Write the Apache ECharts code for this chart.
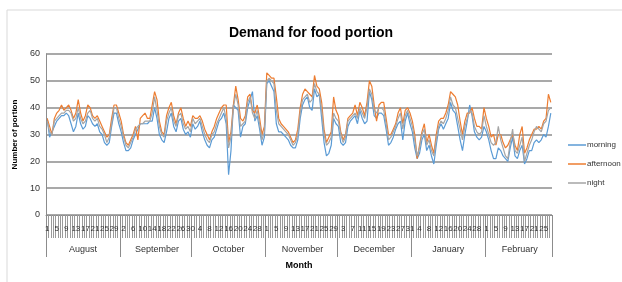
<!DOCTYPE html>
<html lang="en">
<head>
    <meta charset="UTF-8">
    <title>Demand for food portion</title>
    <script src="https://cdn.jsdelivr.net/npm/echarts@6/dist/echarts.min.js"></script>
    <style>
        html, body { margin: 0; padding: 0; background: #fff; }
    </style>
</head>
<body>
<div id="main" style="width: 622px;height:282px;"></div>
<script type="text/javascript">
    // months shown under the axis, and how many days each has in the data
    var months = ['August', 'September', 'October', 'November', 'December', 'January', 'February'];
    var monthDays = [31, 30, 31, 30, 31, 31, 28];

    // night (gray)
    var nightAug = [35, 31, 30, 35, 36, 37, 38, 38, 39, 39, 38, 35, 36, 40, 36, 34, 35, 38, 39, 36, 35, 36, 33, 32, 30, 27, 29, 34, 40, 40, 36];
    var nightSep = [33, 29, 26, 25, 27, 29, 32, 33, 34, 34, 35, 35, 35, 38, 44, 39, 33, 30, 29, 35, 38, 40, 35, 33, 37, 38, 34, 32, 33, 31];
    var nightOct = [36, 34, 35, 36, 33, 30, 28, 27, 30, 31, 34, 36, 38, 40, 36, 25, 29, 40, 45, 41, 33, 34, 35, 42, 44, 38, 36, 39, 34, 28, 31];
    var nightNov = [50, 51, 50, 49, 39, 34, 33, 32, 31, 30, 28, 26, 27, 30, 38, 43, 44, 45, 42, 43, 49, 46, 45, 39, 30, 26, 27, 29, 38, 36];
    var nightDec = [35, 30, 27, 29, 35, 36, 37, 38, 36, 40, 38, 36, 40, 47, 45, 39, 38, 40, 40, 39, 34, 28, 29, 31, 33, 36, 38, 32, 37, 39, 36];
    var nightJan = [33, 28, 22, 25, 30, 32, 26, 28, 24, 22, 28, 33, 35, 34, 36, 39, 44, 41, 40, 36, 32, 28, 33, 36, 39, 38, 33, 31, 30, 31, 37];
    var nightFeb = [33, 30, 27, 26, 27, 33, 28, 25, 22, 21, 27, 32, 24, 23, 26, 29, 20, 23, 26, 28, 31, 33, 32, 31, 34, 35, 39, 40];

    // morning (blue)
    var mornAug = [36, 29, 31, 33, 35, 36, 37, 37, 38, 37, 34, 31, 33, 38, 34, 32, 33, 37, 36, 34, 33, 34, 31, 30, 27, 26, 27, 33, 38, 38, 34];
    var mornSep = [31, 27, 24, 24, 25, 28, 30, 32, 34, 34, 34, 34, 35, 35, 40, 36, 30, 28, 27, 31, 36, 38, 33, 31, 35, 36, 32, 30, 31, 29];
    var mornOct = [34, 32, 33, 35, 31, 28, 26, 25, 28, 29, 32, 35, 36, 38, 34, 15, 24, 41, 40, 39, 29, 33, 34, 40, 43, 46, 35, 37, 32, 26, 29];
    var mornNov = [49, 50, 48, 46, 34, 31, 31, 30, 29, 28, 26, 25, 25, 28, 36, 41, 43, 44, 40, 39, 47, 44, 45, 36, 27, 22, 23, 26, 36, 34];
    var mornDec = [33, 27, 26, 27, 33, 35, 36, 37, 34, 39, 36, 34, 35, 46, 43, 37, 36, 38, 38, 37, 32, 26, 27, 29, 32, 34, 35, 28, 35, 38, 34];
    var mornJan = [31, 25, 21, 23, 28, 30, 24, 26, 22, 19, 26, 32, 34, 32, 34, 36, 42, 39, 38, 33, 28, 24, 30, 35, 41, 37, 31, 29, 28, 29, 33];
    var mornFeb = [31, 28, 24, 21, 21, 25, 24, 22, 21, 20, 25, 29, 22, 21, 24, 26, 19, 21, 24, 24, 27, 28, 27, 28, 30, 29, 33, 38];

    // afternoon (orange)
    var aftAug = [36, 33, 30, 36, 38, 39, 41, 39, 40, 41, 39, 36, 38, 43, 38, 35, 37, 41, 40, 37, 36, 37, 35, 33, 31, 29, 30, 36, 41, 41, 38];
    var aftSep = [35, 30, 27, 26, 28, 30, 33, 28, 36, 37, 38, 36, 36, 41, 46, 43, 35, 31, 30, 37, 40, 42, 37, 34, 38, 40, 36, 33, 35, 33];
    var aftOct = [37, 36, 36, 37, 35, 32, 30, 28, 31, 33, 36, 38, 40, 41, 41, 27, 31, 41, 48, 43, 36, 35, 37, 44, 45, 39, 38, 41, 36, 30, 33];
    var aftNov = [53, 52, 51, 51, 44, 36, 34, 33, 32, 31, 29, 27, 28, 32, 40, 45, 47, 46, 45, 44, 52, 48, 47, 42, 32, 27, 29, 31, 44, 39];
    var aftDec = [37, 31, 28, 30, 36, 37, 38, 41, 37, 42, 40, 37, 42, 50, 48, 41, 35, 41, 42, 42, 36, 30, 30, 32, 34, 38, 40, 34, 39, 40, 38];
    var aftJan = [35, 30, 21, 26, 31, 34, 27, 30, 26, 23, 30, 35, 36, 36, 38, 41, 46, 45, 44, 41, 35, 30, 35, 38, 38, 40, 36, 33, 33, 32, 40];
    var aftFeb = [36, 33, 29, 30, 26, 30, 30, 27, 25, 26, 28, 30, 26, 24, 30, 33, 23, 25, 28, 30, 32, 32, 33, 32, 35, 36, 45, 42];

    var morning = [].concat(mornAug, mornSep, mornOct, mornNov, mornDec, mornJan, mornFeb);
    var afternoon = [].concat(aftAug, aftSep, aftOct, aftNov, aftDec, aftJan, aftFeb);
    var night = [].concat(nightAug, nightSep, nightOct, nightNov, nightDec, nightJan, nightFeb);

    // day numbers + which month each one sits in
    var days = [], monthOf = [], monthStart = {}, monthMid = {};
    var k = 0;
    for (var m = 0; m < months.length; m++) {
        monthStart[k] = true;
        monthMid[k + Math.floor(monthDays[m] / 2)] = months[m];
        for (var d = 1; d <= monthDays[m]; d++) {
            days.push(String(d));
            monthOf.push(months[m]);
            k++;
        }
    }

    var myChart = echarts.init(document.getElementById('main'));
    var font = 'Liberation Sans, Arial, sans-serif';

    var option = {
        animation: false,
        backgroundColor: '#fff',
        textStyle: {fontFamily: font},
        title: {
            text: 'Demand for food portion',
            left: 'center',
            top: 21,
            textStyle: {fontSize: 14, fontWeight: 'bold', color: '#000', fontFamily: font}
        },
        legend: {
            orient: 'vertical',
            left: 563,
            top: 136,
            icon: 'rect',
            itemWidth: 18,
            itemHeight: 1.5,
            itemGap: 11,
            textStyle: {fontSize: 8, color: '#333', padding: [0, 0, 0, -4]},
            data: ['morning', 'afternoon', 'night']
        },
        grid: {left: 46, right: 70, top: 54, bottom: 67},
        xAxis: [{
            type: 'category',
            data: days,
            boundaryGap: true,
            name: 'Month',
            nameLocation: 'middle',
            nameGap: 46,
            nameTextStyle: {fontSize: 9, fontWeight: 'bold', color: '#000'},
            axisLine: {show: true, lineStyle: {color: '#8c8c8c', width: 1}},
            axisTick: {show: true, interval: 0, length: 23, lineStyle: {color: '#9a9a9a'}},
            axisLabel: {interval: 3, fontSize: 8, color: '#333', margin: 10}
        }, {
            type: 'category',
            data: monthOf,
            position: 'bottom',
            boundaryGap: true,
            axisLine: {show: false},
            axisTick: {
                show: true,
                length: 42,
                interval: function (index) { return !!monthStart[index]; },
                lineStyle: {color: '#8c8c8c'}
            },
            axisLabel: {
                fontSize: 9,
                color: '#333',
                margin: 30,
                interval: function (index) { return !!monthMid[index]; },
                formatter: function (v, i) { return monthMid[i] || ''; }
            }
        }],
        yAxis: {
            type: 'value',
            min: 0,
            max: 60,
            interval: 10,
            name: 'Number of portion',
            nameLocation: 'middle',
            nameGap: 17,
            nameTextStyle: {fontSize: 8, fontWeight: 'bold', color: '#000'},
            axisLine: {show: true, lineStyle: {color: '#8c8c8c'}},
            axisTick: {show: false},
            axisLabel: {fontSize: 9, color: '#333', margin: 6},
            splitLine: {lineStyle: {color: '#8c8c8c', width: 1.5}}
        },
        graphic: [{
            type: 'rect',
            shape: {x: 7, y: 10, width: 640, height: 300},
            style: {fill: 'none', stroke: '#d9d9d9', lineWidth: 1},
            silent: true
        }],
        series: [{
            name: 'morning',
            type: 'line',
            data: morning,
            symbol: 'none',
            lineStyle: {color: '#5b9bd5', width: 1.2},
            itemStyle: {color: '#5b9bd5'}
        }, {
            name: 'afternoon',
            type: 'line',
            data: afternoon,
            symbol: 'none',
            lineStyle: {color: '#ed7d31', width: 1.2},
            itemStyle: {color: '#ed7d31'}
        }, {
            name: 'night',
            type: 'line',
            data: night,
            symbol: 'none',
            lineStyle: {color: '#a5a5a5', width: 1.2},
            itemStyle: {color: '#a5a5a5'}
        }]
    };
    myChart.setOption(option);
</script>
</body>
</html>
